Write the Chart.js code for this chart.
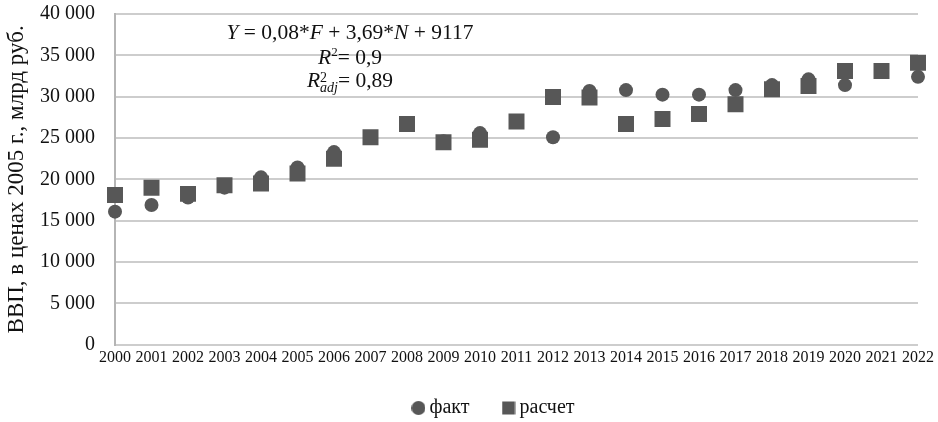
<!DOCTYPE html>
<html>
<head>
<meta charset="utf-8">
<script src="https://cdn.jsdelivr.net/npm/chart.js@4.4.1/dist/chart.umd.min.js"></script>
<style>
    html, body { margin: 0; padding: 0; background: #fff; }
    #wrap { position: relative; width: 938px; height: 422px; }
    #eq {
        position: absolute; left: 200px; top: 21px; width: 300px;
        text-align: center; font-family: "Liberation Serif", "Times New Roman", serif;
        font-size: 21.5px; line-height: 23px; color: #111;
    }
    #eq sup { font-size: 13px; line-height: 0; }
</style>
</head>
<body>
<div id="wrap">
    <canvas id="mainChart" width="938" height="422"></canvas>
    <div id="eq">
        <div><i>Y</i> = 0,08*<i>F</i> + 3,69*<i>N</i> + 9117</div>
        <div style="margin-top:2px"><i>R</i><sup>2</sup>= 0,9</div>
        <div><i>R</i><span style="display:inline-block;vertical-align:-5px;line-height:10px;font-size:14px;text-align:left"><span style="display:block">2</span><i style="display:block">adj</i></span>= 0,89</div>
    </div>
</div>
<script>
// годы и значения (млрд руб., в ценах 2005 г.)
const years = ["2000","2001","2002","2003","2004","2005","2006","2007","2008","2009","2010",
    "2011","2012","2013","2014","2015","2016","2017","2018","2019","2020","2021","2022"];
const fakt = [16100, 16900, 17800, 19000, 20250, 21450, 23300, 25100, 26800, 24600, 25600,
    27000, 25100, 30700, 30800, 30250, 30250, 30800, 31400, 32100, 31400, 33100, 32400];
const raschet = [18100, 19000, 18250, 19300, 19500, 20700, 22500, 25100, 26700, 24500, 24800,
    27000, 29950, 29900, 26700, 27300, 27900, 29100, 30900, 31300, 33100, 33100, 34100];
const yTicks = [0, 5000, 10000, 15000, 20000, 25000, 30000, 35000, 40000];

const markerColor = "#575757";
const serif = "'Liberation Serif', 'Times New Roman', serif";

function fmt(v){
    // 40 000 - пробел как разделитель тысяч
    return String(v).replace(/\B(?=(\d{3})+(?!\d))/g, " ");
}

// маленькие значки для легенды
function makeIcon(kind){
    let c = document.createElement("canvas");
    c.width = 14; c.height = 14;
    let ctx = c.getContext("2d");
    ctx.fillStyle = markerColor;
    if(kind=="circle"){
        ctx.beginPath();
        ctx.arc(7, 7, 7, 0, Math.PI*2);
        ctx.fill();
    }
    else {
        ctx.fillRect(0.5, 0.5, 13, 13);
    }
    return c;
}
const legendIcons = [makeIcon("circle"), makeIcon("rect")];

// сдвиг легенды
const moveLegend = {
    id: "moveLegend",
    afterLayout(chart){
        const lg = chart.legend;
        const dx = 37, dy = -10;
        lg.left += dx; lg.right += dx;
        lg.top += dy; lg.bottom += dy;
    }
};

let canvas_1 = document.getElementById("mainChart");
new Chart(canvas_1, {
    type: 'line',
    data: {
        labels: years,
        datasets: [
            {
                label: "факт",
                data: fakt,
                showLine: false,
                pointStyle: 'circle',
                pointRadius: 7,
                pointHoverRadius: 7,
                backgroundColor: markerColor,
                borderColor: markerColor,
                borderWidth: 0,
                order: 1
            },
            {
                label: "расчет",
                data: raschet,
                showLine: false,
                pointStyle: 'rect',
                pointRadius: 11.3,
                pointHoverRadius: 11.3,
                backgroundColor: markerColor,
                borderColor: markerColor,
                borderWidth: 0,
                order: 0
            }
        ]
    },
    plugins: [moveLegend],
    options: {
        responsive: false,
        animation: false,
        events: [],
        layout: {
            padding: {top: 14, right: 20, bottom: -16, left: 0}
        },
        scales: {
            x: {
                offset: false,
                grid: {display: false, drawTicks: false},
                border: {display: false},
                ticks: {
                    autoSkip: false, maxRotation: 0, padding: 3,
                    color: "#111",
                    font: {family: serif, size: 16}
                }
            },
            y: {
                min: 0,
                max: 40000,
                afterBuildTicks: function(scale){
                    scale.ticks = yTicks.map(v => ({value: v}));
                },
                afterFit: function(scale){ scale.width = 115; },
                grid: {color: "#cdcdcd", lineWidth: 2, drawTicks: true, tickLength: 18, tickColor: "rgba(0,0,0,0)"},
                border: {display: true, color: "#b5b5b5", width: 2},
                ticks: {
                    padding: 2,
                    color: "#111",
                    font: {family: serif, size: 20},
                    callback: v => fmt(v)
                },
                title: {
                    display: true,
                    text: "ВВП, в ценах 2005 г., млрд руб.",
                    color: "#111",
                    padding: {top: 3, bottom: 0},
                    font: {family: serif, size: 23}
                }
            }
        },
        plugins: {
            legend: {
                position: 'bottom',
                labels: {
                    generateLabels: function(chart){
                        return chart.data.datasets.map((ds, i) => ({
                            text: ds.label,
                            datasetIndex: i,
                            pointStyle: legendIcons[i],
                            fillStyle: markerColor,
                            strokeStyle: markerColor,
                            lineWidth: 0,
                            fontColor: "#111",
                            hidden: false
                        }));
                    },
                    usePointStyle: true,
                    pointStyleWidth: 2,
                    boxHeight: 14,
                    padding: 38,
                    color: "#111",
                    font: {family: serif, size: 20}
                }
            },
            tooltip: {enabled: false}
        }
    }
});
</script>
</body>
</html>
